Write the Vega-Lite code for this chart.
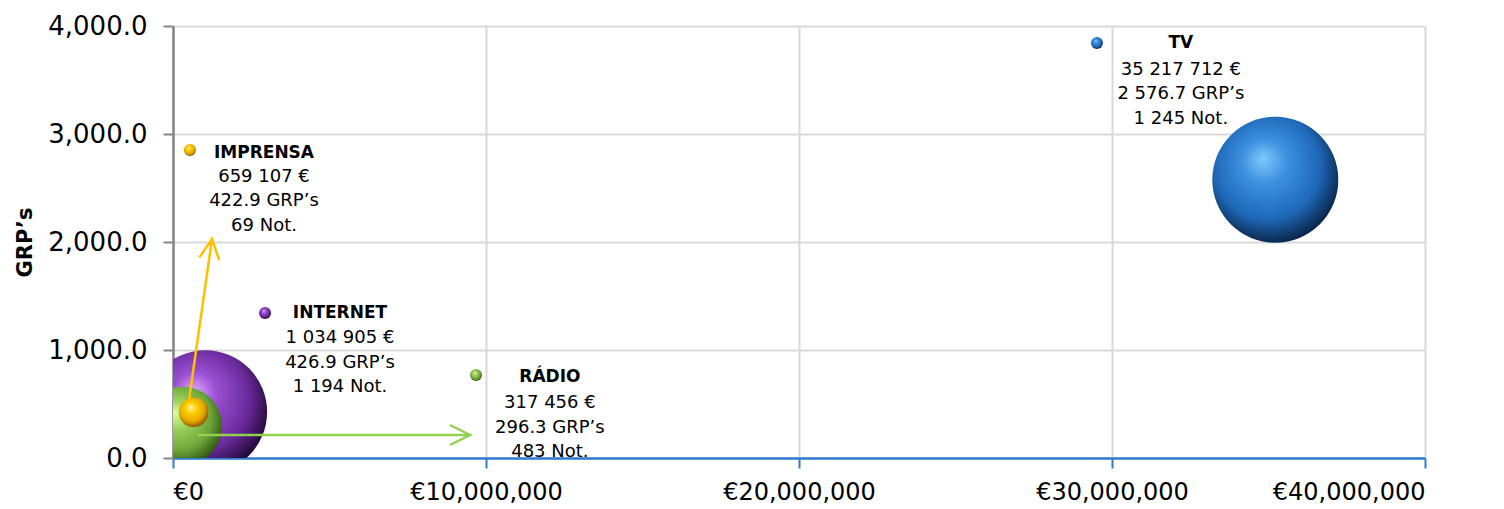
{
  "$schema": "https://vega.github.io/schema/vega-lite/v6.json",
  "width": 1252,
  "height": 432,
  "autosize": {"type": "none"},
  "padding": {"left": 173, "top": 26, "right": 79, "bottom": 51},
  "background": "white",
  "config": {"view": {"stroke": null}, "font": "DejaVu Sans"},
  "datasets": {
    "media": [
      {"medium": "TV", "spend": 35217712, "grps": 2576.7, "nots": 1245},
      {"medium": "INTERNET", "spend": 1034905, "grps": 426.9, "nots": 1194},
      {"medium": "RÁDIO", "spend": 317456, "grps": 296.3, "nots": 483},
      {"medium": "IMPRENSA", "spend": 659107, "grps": 422.9, "nots": 69}
    ],
    "labels": [
      {"medium": "TV", "title": "TV", "body": "35 217 712 €\n2 576.7 GRP’s\n1 245 Not.", "lx": 32200000, "ty": 3843, "by": 3593, "dx": 29520000, "dy": 3843},
      {"medium": "IMPRENSA", "title": "IMPRENSA", "body": "659 107 €\n422.9 GRP’s\n69 Not.", "lx": 2907000, "ty": 2820, "by": 2602, "dx": 540000, "dy": 2852},
      {"medium": "INTERNET", "title": "INTERNET", "body": "1 034 905 €\n426.9 GRP’s\n1 194 Not.", "lx": 5335000, "ty": 1343, "by": 1111, "dx": 2940000, "dy": 1343},
      {"medium": "RÁDIO", "title": "RÁDIO", "body": "317 456 €\n296.3 GRP’s\n483 Not.", "lx": 12040000, "ty": 750, "by": 509, "dx": 9680000, "dy": 769}
    ],
    "arrows": [
      {"medium": "IMPRENSA", "x1": 511000, "y1": 537, "x2": 1246000, "y2": 2028},
      {"medium": "RÁDIO", "x1": 799000, "y1": 213, "x2": 9490000, "y2": 213}
    ]
  },
  "layer": [
    {
      "data": {"name": "media"},
      "transform": [{"filter": "datum.medium === 'TV'"}],
      "mark": {"type": "point", "filled": true, "clip": true, "opacity": 1,
        "fill": {"gradient": "radial", "x1": 0.4, "y1": 0.33, "r1": 0, "x2": 0.45, "y2": 0.42, "r2": 0.6,
          "stops": [{"offset": 0, "color": "#80c8fb"}, {"offset": 0.3, "color": "#3c90e0"}, {"offset": 0.7, "color": "#1e68b8"}, {"offset": 1, "color": "#082244"}]}},
      "encoding": {
        "x": {"field": "spend", "type": "quantitative",
          "scale": {"domain": [0, 40000000], "nice": false, "zero": true},
          "axis": {"title": null, "values": [0, 10000000, 20000000, 30000000, 40000000],
            "labelExpr": "'€' + format(datum.value, ',')",
            "grid": true, "gridColor": "#d9d9d9", "gridWidth": 2,
            "domainColor": "#2f7dd1", "domainWidth": 2.5,
            "tickColor": "#2f7dd1", "tickWidth": 2, "tickSize": 10,
            "labelFontSize": 24, "labelColor": "#000", "labelPadding": 12, "labelFont": "DejaVu Sans"}},
        "y": {"field": "grps", "type": "quantitative",
          "scale": {"domain": [0, 4000], "nice": false, "zero": true},
          "axis": {"title": "GRP’s", "titleFontSize": 21, "titleFontWeight": "bold", "titleColor": "#000", "titleFont": "DejaVu Sans", "titlePadding": 12,
            "values": [0, 1000, 2000, 3000, 4000], "format": ",.1f",
            "grid": true, "gridColor": "#d9d9d9", "gridWidth": 2,
            "domainColor": "#868686", "domainWidth": 2.5,
            "tickColor": "#868686", "tickWidth": 2, "tickSize": 10,
            "labelFontSize": 26, "labelColor": "#000", "labelPadding": 16, "labelFont": "DejaVu Sans"}},
        "size": {"field": "nots", "type": "quantitative", "scale": {"domain": [0, 1245], "range": [0, 15876]}, "legend": null}
      }
    },
    {
      "data": {"name": "media"},
      "transform": [{"filter": "datum.medium === 'INTERNET'"}],
      "mark": {"type": "point", "filled": true, "clip": true, "opacity": 1,
        "fill": {"gradient": "radial", "x1": 0.4, "y1": 0.33, "r1": 0, "x2": 0.45, "y2": 0.42, "r2": 0.6,
          "stops": [{"offset": 0, "color": "#dfa8ff"}, {"offset": 0.3, "color": "#9a4fd2"}, {"offset": 0.7, "color": "#6a2a9c"}, {"offset": 1, "color": "#1e0630"}]}},
      "encoding": {
        "x": {"field": "spend", "type": "quantitative", "title": null},
        "y": {"field": "grps", "type": "quantitative", "title": "GRP’s"},
        "size": {"field": "nots", "type": "quantitative", "legend": null}
      }
    },
    {
      "data": {"name": "media"},
      "transform": [{"filter": "datum.medium === 'RÁDIO'"}],
      "mark": {"type": "point", "filled": true, "clip": true, "opacity": 1,
        "fill": {"gradient": "radial", "x1": 0.4, "y1": 0.33, "r1": 0, "x2": 0.45, "y2": 0.42, "r2": 0.6,
          "stops": [{"offset": 0, "color": "#dcff9e"}, {"offset": 0.3, "color": "#9cd25c"}, {"offset": 0.7, "color": "#6ea63a"}, {"offset": 1, "color": "#2c5412"}]}},
      "encoding": {
        "x": {"field": "spend", "type": "quantitative", "title": null},
        "y": {"field": "grps", "type": "quantitative", "title": "GRP’s"},
        "size": {"field": "nots", "type": "quantitative", "legend": null}
      }
    },
    {
      "data": {"name": "media"},
      "transform": [{"filter": "datum.medium === 'IMPRENSA'"}],
      "mark": {"type": "point", "filled": true, "clip": true, "opacity": 1,
        "fill": {"gradient": "radial", "x1": 0.4, "y1": 0.33, "r1": 0, "x2": 0.45, "y2": 0.42, "r2": 0.6,
          "stops": [{"offset": 0, "color": "#fff6b0"}, {"offset": 0.3, "color": "#ffd000"}, {"offset": 0.7, "color": "#e8a600"}, {"offset": 1, "color": "#845400"}]}},
      "encoding": {
        "x": {"field": "spend", "type": "quantitative", "title": null},
        "y": {"field": "grps", "type": "quantitative", "title": "GRP’s"},
        "size": {"field": "nots", "type": "quantitative", "legend": null}
      }
    },
    {
      "data": {"name": "arrows"},
      "transform": [{"filter": "datum.medium === 'IMPRENSA'"}],
      "mark": {"type": "rule", "color": "#ffc000", "strokeWidth": 2.5},
      "encoding": {
        "x": {"field": "x1", "type": "quantitative", "title": null},
        "y": {"field": "y1", "type": "quantitative", "title": "GRP’s"},
        "x2": {"field": "x2"},
        "y2": {"field": "y2"}
      }
    },
    {
      "data": {"name": "arrows"},
      "transform": [{"filter": "datum.medium === 'IMPRENSA'"}],
      "mark": {"type": "point", "shape": "M-0.5,1L0,0L0.5,1", "filled": false, "stroke": "#ffc000", "strokeWidth": 2.5, "size": 1600, "angle": 8, "opacity": 1},
      "encoding": {
        "x": {"field": "x2", "type": "quantitative", "title": null},
        "y": {"field": "y2", "type": "quantitative", "title": "GRP’s"}
      }
    },
    {
      "data": {"name": "arrows"},
      "transform": [{"filter": "datum.medium === 'RÁDIO'"}],
      "mark": {"type": "rule", "color": "#92d050", "strokeWidth": 2.5},
      "encoding": {
        "x": {"field": "x1", "type": "quantitative", "title": null},
        "y": {"field": "y1", "type": "quantitative", "title": "GRP’s"},
        "x2": {"field": "x2"},
        "y2": {"field": "y2"}
      }
    },
    {
      "data": {"name": "arrows"},
      "transform": [{"filter": "datum.medium === 'RÁDIO'"}],
      "mark": {"type": "point", "shape": "M-0.5,1L0,0L0.5,1", "filled": false, "stroke": "#92d050", "strokeWidth": 2.5, "size": 1600, "angle": 90, "opacity": 1},
      "encoding": {
        "x": {"field": "x2", "type": "quantitative", "title": null},
        "y": {"field": "y2", "type": "quantitative", "title": "GRP’s"}
      }
    },
    {
      "data": {"name": "labels"},
      "transform": [{"filter": "datum.medium === 'TV'"}],
      "mark": {"type": "point", "filled": true, "size": 144, "opacity": 1,
        "fill": {"gradient": "radial", "x1": 0.4, "y1": 0.33, "r1": 0, "x2": 0.45, "y2": 0.42, "r2": 0.6,
          "stops": [{"offset": 0, "color": "#80c8fb"}, {"offset": 0.3, "color": "#3c90e0"}, {"offset": 0.7, "color": "#1e68b8"}, {"offset": 1, "color": "#082244"}]}},
      "encoding": {
        "x": {"field": "dx", "type": "quantitative", "title": null},
        "y": {"field": "dy", "type": "quantitative", "title": "GRP’s"}
      }
    },
    {
      "data": {"name": "labels"},
      "transform": [{"filter": "datum.medium === 'INTERNET'"}],
      "mark": {"type": "point", "filled": true, "size": 144, "opacity": 1,
        "fill": {"gradient": "radial", "x1": 0.4, "y1": 0.33, "r1": 0, "x2": 0.45, "y2": 0.42, "r2": 0.6,
          "stops": [{"offset": 0, "color": "#dfa8ff"}, {"offset": 0.3, "color": "#9a4fd2"}, {"offset": 0.7, "color": "#6a2a9c"}, {"offset": 1, "color": "#1e0630"}]}},
      "encoding": {
        "x": {"field": "dx", "type": "quantitative", "title": null},
        "y": {"field": "dy", "type": "quantitative", "title": "GRP’s"}
      }
    },
    {
      "data": {"name": "labels"},
      "transform": [{"filter": "datum.medium === 'RÁDIO'"}],
      "mark": {"type": "point", "filled": true, "size": 144, "opacity": 1,
        "fill": {"gradient": "radial", "x1": 0.4, "y1": 0.33, "r1": 0, "x2": 0.45, "y2": 0.42, "r2": 0.6,
          "stops": [{"offset": 0, "color": "#dcff9e"}, {"offset": 0.3, "color": "#9cd25c"}, {"offset": 0.7, "color": "#6ea63a"}, {"offset": 1, "color": "#2c5412"}]}},
      "encoding": {
        "x": {"field": "dx", "type": "quantitative", "title": null},
        "y": {"field": "dy", "type": "quantitative", "title": "GRP’s"}
      }
    },
    {
      "data": {"name": "labels"},
      "transform": [{"filter": "datum.medium === 'IMPRENSA'"}],
      "mark": {"type": "point", "filled": true, "size": 144, "opacity": 1,
        "fill": {"gradient": "radial", "x1": 0.4, "y1": 0.33, "r1": 0, "x2": 0.45, "y2": 0.42, "r2": 0.6,
          "stops": [{"offset": 0, "color": "#fff6b0"}, {"offset": 0.3, "color": "#ffd000"}, {"offset": 0.7, "color": "#e8a600"}, {"offset": 1, "color": "#845400"}]}},
      "encoding": {
        "x": {"field": "dx", "type": "quantitative", "title": null},
        "y": {"field": "dy", "type": "quantitative", "title": "GRP’s"}
      }
    },
    {
      "data": {"name": "labels"},
      "mark": {"type": "text", "font": "DejaVu Sans", "fontSize": 17, "fontWeight": "bold", "color": "#000", "align": "center", "baseline": "middle"},
      "encoding": {
        "x": {"field": "lx", "type": "quantitative", "title": null},
        "y": {"field": "ty", "type": "quantitative", "title": "GRP’s"},
        "text": {"field": "title"}
      }
    },
    {
      "data": {"name": "labels"},
      "mark": {"type": "text", "font": "DejaVu Sans", "fontSize": 18, "color": "#000", "align": "center", "baseline": "middle", "lineBreak": "\n", "lineHeight": 24.5},
      "encoding": {
        "x": {"field": "lx", "type": "quantitative", "title": null},
        "y": {"field": "by", "type": "quantitative", "title": "GRP’s"},
        "text": {"field": "body"}
      }
    }
  ]
}
